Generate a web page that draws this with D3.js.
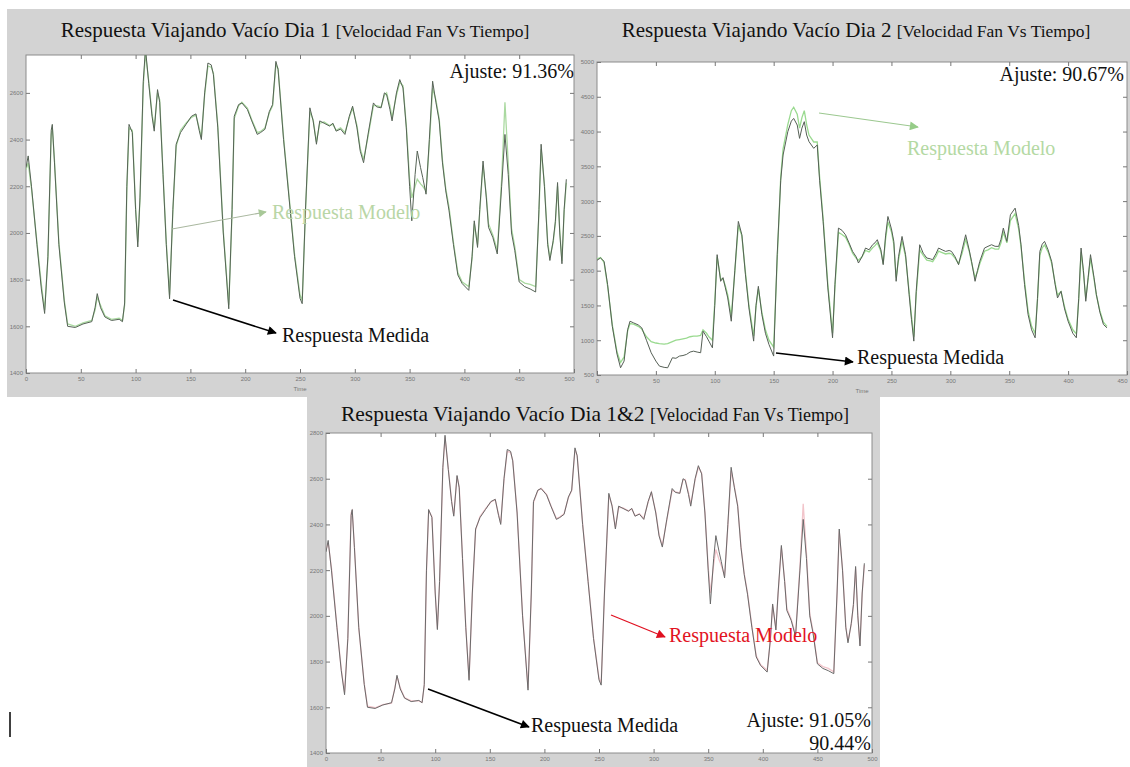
<!DOCTYPE html>
<html><head><meta charset="utf-8">
<script src="https://cdn.jsdelivr.net/npm/d3@7/dist/d3.min.js"></script>
<style>body{margin:0;background:#fff}svg{display:block}</style>
</head><body><svg id="c" width="1130" height="767"></svg>
<script>
// ---------------- DATA ----------------
const tiempo1 = [0,2,5,10,14,17,20,23,24,26,30,35,38,45,52,60,63,65,68,72,78,85,88,90,92,94,97,100,102,104,107,109,112,115,117,120,122,125,128,131,134,137,141,146,151,155,158,160,163,166,169,171,175,180,185,188,190,194,197,202,206,211,214,218,222,225,228,230,235,240,245,250,252,255,259,262,265,268,272,277,280,283,287,291,295,298,302,305,308,312,317,320,324,327,329,332,334,338,341,344,347,350,352,355,357,360,362,365,368,371,374,377,380,383,386,390,394,398,404,407,409,412,414,417,420,422,426,430,434,437,440,443,446,450,455,460,465,468,470,473,476,478,481,483,485,487,489,491,493];
const medida1 = [2280,2330,2200,1950,1760,1655,1900,2440,2465,2300,1950,1700,1600,1595,1610,1620,1680,1740,1680,1640,1625,1630,1620,1700,2200,2465,2430,2100,1940,2150,2650,2790,2640,2500,2436,2614,2560,2250,1950,1718,2100,2380,2430,2465,2500,2510,2440,2400,2600,2728,2720,2678,2450,2000,1675,2100,2500,2550,2557,2529,2480,2422,2430,2444,2520,2550,2735,2700,2400,2150,1900,1720,1697,2100,2536,2480,2380,2480,2470,2458,2470,2436,2445,2422,2500,2543,2450,2350,2301,2420,2557,2540,2536,2600,2593,2530,2480,2600,2657,2621,2450,2200,2052,2250,2351,2280,2237,2166,2400,2650,2560,2480,2300,2180,2095,1950,1820,1783,1754,1900,2052,1938,2100,2308,2150,2024,1980,1910,2200,2422,2250,2000,1924,1790,1770,1760,1747,2100,2380,2200,1950,1882,1967,2050,2216,2000,1868,2100,2230];
const modelo1 = [2270,2300,2190,1960,1780,1670,1890,2420,2450,2310,1960,1710,1610,1600,1615,1625,1670,1725,1690,1645,1630,1635,1625,1690,2180,2450,2440,2110,1960,2140,2630,2770,2650,2510,2450,2600,2570,2260,1960,1735,2090,2370,2440,2470,2495,2505,2450,2410,2590,2715,2710,2685,2460,2010,1690,2080,2490,2545,2560,2535,2485,2430,2435,2450,2515,2545,2720,2705,2410,2160,1910,1735,1710,2090,2520,2485,2390,2470,2475,2460,2465,2440,2450,2430,2495,2535,2460,2360,2315,2410,2545,2545,2540,2590,2600,2545,2495,2590,2645,2630,2460,2230,2150,2200,2230,2210,2200,2180,2380,2620,2570,2490,2310,2190,2110,1960,1830,1790,1770,1890,2040,1950,2090,2290,2160,2040,1990,1925,2230,2560,2300,2020,1940,1800,1785,1780,1770,2080,2360,2210,1960,1895,1960,2040,2200,2010,1880,2090,2215];
const modelo12 = [2290,2320,2210,1955,1765,1665,1905,2450,2460,2305,1945,1705,1605,1598,1612,1618,1685,1735,1685,1642,1628,1628,1622,1695,2190,2460,2435,2105,1945,2145,2640,2780,2645,2505,2440,2610,2565,2255,1955,1725,2095,2375,2435,2468,2498,2508,2445,2405,2595,2720,2715,2680,2455,2005,1685,2095,2495,2548,2558,2532,2482,2426,2432,2447,2518,2548,2728,2702,2405,2155,1905,1728,1705,2095,2530,2482,2385,2475,2472,2459,2468,2438,2447,2426,2498,2540,2455,2355,2308,2415,2550,2542,2538,2595,2597,2538,2488,2595,2650,2625,2455,2215,2100,2225,2290,2245,2220,2175,2390,2635,2565,2485,2305,2185,2102,1955,1825,1786,1762,1895,2046,1944,2095,2300,2155,2032,1985,1918,2215,2490,2275,2010,1932,1795,1778,1770,1755,2090,2370,2205,1955,1888,1963,2045,2208,2005,1874,2095,2222];
const tiempo2 = [0,3,6,9,13,17,20,23,26,28,31,35,38,42,46,50,53,57,60,64,67,70,73,76,79,82,85,88,90,93,95,98,100,102,105,107,109,111,114,117,120,123,126,129,133,135,137,140,143,146,150,153,156,158,162,165,167,170,172,174,176,178,180,184,187,189,192,196,200,202,205,208,211,214,217,220,222,225,228,231,234,236,238,241,243,245,247,250,252,254,256,259,262,265,267,269,271,274,277,280,283,285,288,290,293,296,299,301,304,307,310,313,316,318,321,323,325,329,332,335,338,341,343,345,348,351,355,358,360,363,366,369,372,374,376,378,380,383,386,389,391,394,397,400,404,407,409,411,413,415,417,419,422,424,427,430,433];
const medida2 = [2150,2182,2134,1800,1200,800,604,700,1150,1273,1250,1220,1178,1000,820,700,628,610,604,748,740,772,780,796,830,843,830,820,1130,1050,987,891,1500,2230,1847,1900,1752,1608,1273,2000,2708,2516,1950,1465,987,1500,1775,1369,1100,939,772,2230,3300,3663,3998,4150,4189,4094,3902,4050,4142,3950,3855,3759,3807,3300,2708,1752,1035,1800,2612,2580,2516,2400,2277,2200,2110,2200,2325,2300,2373,2400,2445,2300,2086,2500,2779,2600,2421,1847,2200,2492,2230,1656,1300,987,1700,2373,2250,2182,2170,2158,2250,2325,2300,2277,2290,2277,2200,2086,2300,2516,2300,2134,1847,2000,2134,2325,2350,2373,2350,2349,2450,2612,2421,2803,2899,2650,2373,1800,1369,1150,1035,1600,2277,2380,2421,2300,2134,1800,1608,1704,1450,1273,1100,1035,1600,2325,2000,1560,1900,2230,1900,1656,1400,1226,1178];
const modelo2 = [2170,2190,2120,1780,1220,830,680,760,1130,1240,1230,1200,1160,1050,980,960,950,945,950,980,1000,1010,1020,1030,1050,1060,1060,1070,1150,1100,1050,1000,1550,2200,1880,1880,1780,1650,1350,1980,2650,2500,1980,1500,1060,1480,1740,1400,1150,1000,900,2150,3350,3750,4100,4300,4350,4250,4050,4200,4300,4100,3950,3850,3850,3350,2750,1800,1100,1750,2550,2520,2480,2380,2250,2180,2150,2200,2290,2270,2330,2360,2400,2280,2100,2450,2700,2560,2380,1900,2150,2430,2200,1700,1350,1050,1650,2300,2220,2150,2140,2130,2210,2280,2260,2240,2250,2240,2180,2100,2250,2450,2280,2120,1900,1980,2100,2280,2300,2330,2310,2310,2400,2550,2400,2720,2820,2600,2350,1850,1420,1200,1100,1580,2220,2330,2370,2270,2110,1820,1650,1700,1480,1300,1150,1090,1580,2270,1980,1600,1880,2180,1880,1650,1420,1260,1200];
const xTicks500 = [0,50,100,150,200,250,300,350,400,450,500];
const xTicks450 = [0,50,100,150,200,250,300,350,400,450];
const yTicksDia1 = [1400,1600,1800,2000,2200,2400,2600,2800];
const yTicksDia2 = [500,1000,1500,2000,2500,3000,3500,4000,4500,5000];
const titulos = ["Respuesta Viajando Vacío Dia 1","Respuesta Viajando Vacío Dia 2","Respuesta Viajando Vacío Dia 1&2"];
const subtitulo = "[Velocidad Fan Vs Tiempo]";
const ajustes = ["Ajuste: 91.36%","Ajuste: 90.67%","Ajuste: 91.05%","90.44%"];

// ---------------- DRAW ----------------
const svg = d3.select('#c');
const defs = svg.append('defs');
const SERIF = '"Liberation Serif","Times New Roman",serif';
const fmt = d3.format('d');
function marker(id, color, w, h){
  defs.append('marker').attr('id',id).attr('viewBox','0 0 10 10').attr('refX',9).attr('refY',5)
    .attr('markerWidth',w).attr('markerHeight',h).attr('markerUnits','userSpaceOnUse').attr('orient','auto')
    .append('path').attr('d','M0,0L10,5L0,10z').attr('fill',color);
}
marker('mBlack','#000',13,9);
marker('mGreen','#a8c898',11,8);
marker('mGreen2','#96cc88',13,9);
marker('mRed','#e01020',13,9);

function drawPanel(p){
  const g = svg.append('g');
  g.append('rect').attr('x',p.bg[0]).attr('y',p.bg[1]).attr('width',p.bg[2]).attr('height',p.bg[3]).attr('fill','#d3d3d3');
  const x = d3.scaleLinear().domain(p.xDomain).range([p.px0,p.px1]);
  const y = d3.scaleLinear().domain(p.yDomain).range([p.py1,p.pyTop]);
  g.append('rect').attr('x',p.px0).attr('y',p.py0).attr('width',p.px1-p.px0).attr('height',p.py1-p.py0)
    .attr('fill','#fff').attr('stroke','#8c8c8c').attr('stroke-width',1);
  const yT = p.yTicks.filter(v => y(v) >= p.py0 - 1);
  const axStyle = a => { a.select('.domain').remove(); a.selectAll('line').attr('stroke','#777');
    a.selectAll('text').attr('fill','#777').style('font-size','6px').style('font-family','Arial, sans-serif'); };
  const xb = g.append('g').attr('transform',`translate(0,${p.py1})`)
    .call(d3.axisBottom(x).tickValues(p.xTicks).tickFormat(fmt).tickSizeInner(-4).tickSizeOuter(0).tickPadding(4)).call(axStyle);
  xb.selectAll('.tick text').filter(d => x(d) > p.bg[0]+p.bg[2]-6).attr('text-anchor','end');
  g.append('g').attr('transform',`translate(0,${p.py0})`).call(d3.axisTop(x).tickValues(p.xTicks.filter(v=>v>p.xDomain[0]&&v<p.xDomain[1])).tickSizeInner(-4).tickSizeOuter(0).tickFormat('')).call(axStyle);
  g.append('g').attr('transform',`translate(${p.px0},0)`).call(d3.axisLeft(y).tickValues(yT).tickFormat(fmt).tickSizeInner(-4).tickSizeOuter(0).tickPadding(3)).call(axStyle);
  g.append('g').attr('transform',`translate(${p.px1},0)`).call(d3.axisRight(y).tickValues(yT.filter(v=>y(v)>p.py0+1&&y(v)<p.py1-1)).tickSizeInner(-4).tickSizeOuter(0).tickFormat('')).call(axStyle);
  if (p.xLabel) g.append('text').attr('x',(p.px0+p.px1)/2).attr('y',p.py1+18).attr('text-anchor','middle')
    .attr('fill','#777').style('font-size','6px').style('font-family','Arial, sans-serif').text(p.xLabel);
  const cid = 'clip'+p.id;
  defs.append('clipPath').attr('id',cid).append('rect').attr('x',p.px0).attr('y',p.py0).attr('width',p.px1-p.px0).attr('height',p.py1-p.py0);
  const line = d3.line().x(d=>x(d[0])).y(d=>y(d[1]));
  const lg = g.append('g').attr('clip-path',`url(#${cid})`);
  lg.append('path').datum(d3.zip(p.t,p.model)).attr('d',line).attr('fill','none').attr('stroke',p.modelColor).attr('stroke-width',1.3);
  lg.append('path').datum(d3.zip(p.t,p.meas)).attr('d',line).attr('fill','none').attr('stroke',p.measColor).attr('stroke-width',1);
  // title
  const tt = g.append('text').attr('x',p.titleX).attr('y',p.titleY).attr('text-anchor','middle').style('font-family',SERIF).attr('fill','#111');
  tt.append('tspan').style('font-size',p.titleSize+'px').text(p.title+' ');
  tt.append('tspan').style('font-size',p.subSize+'px').text(subtitulo);
  return g;
}

function label(g, x, y, txt, color, size, anchor){
  g.append('text').attr('x',x).attr('y',y).attr('text-anchor',anchor||'start').attr('fill',color)
    .style('font-family',SERIF).style('font-size',size+'px').text(txt);
}
function arrow(g, x1,y1,x2,y2,color,m,w){
  g.append('line').attr('x1',x1).attr('y1',y1).attr('x2',x2).attr('y2',y2).attr('stroke',color).attr('stroke-width',w||1.3).attr('marker-end',`url(#${m})`);
}
const FS = 20;

// Panel 1
const g1 = drawPanel({id:1, bg:[7,9,571,388], px0:26, px1:574, py0:55, py1:373, pyTop:46.2,
  xDomain:[0,500], yDomain:[1400,2800], xTicks:xTicks500, yTicks:yTicksDia1, xLabel:'Time',
  t:tiempo1, meas:medida1, model:modelo1, measColor:'#566356', modelColor:'#aad9a0',
  title:titulos[0], titleX:295, titleY:37, titleSize:21, subSize:17.5});
label(g1,574,78,ajustes[0],'#111',FS,'end');
arrow(g1,172,229,266,212,'#aab8a0','mGreen',1.1);
label(g1,272,219,'Respuesta Modelo','#b9d6a6',FS);
arrow(g1,173,300,276,333,'#000','mBlack',1.5);
label(g1,282,342,'Respuesta Medida','#111',FS);

// Panel 2
const g2 = drawPanel({id:2, bg:[578,9,552,388], px0:597, px1:1127, py0:62, py1:375, pyTop:62,
  xDomain:[0,450], yDomain:[500,5000], xTicks:xTicks450, yTicks:yTicksDia2, xLabel:'Time',
  t:tiempo2, meas:medida2, model:modelo2, measColor:'#555f55', modelColor:'#9ada90',
  title:titulos[1], titleX:856, titleY:37, titleSize:21, subSize:17.5});
label(g2,1124,81,ajustes[1],'#111',FS,'end');
arrow(g2,819,113,918,127,'#9cc890','mGreen2',1.2);
label(g2,907,155,'Respuesta Modelo','#b4d9a3',FS);
arrow(g2,776,353,853,362,'#000','mBlack',1.5);
label(g2,857,364,'Respuesta Medida','#111',FS);

// Panel 3
const g3 = drawPanel({id:3, bg:[307,397,573,370], px0:326, px1:872, py0:433, py1:753, pyTop:433,
  xDomain:[0,500], yDomain:[1400,2800], xTicks:xTicks500, yTicks:yTicksDia1, xLabel:null,
  t:tiempo1, meas:medida1, model:modelo12, measColor:'#6a6a6a', modelColor:'#f2c4ca',
  title:titulos[2], titleX:595, titleY:421, titleSize:21.5, subSize:18});
arrow(g3,611,615,665,637,'#e01020','mRed',1.3);
label(g3,669,642,'Respuesta Modelo','#e2141f',FS);
arrow(g3,428,689,529,727,'#000','mBlack',1.5);
label(g3,531,732,'Respuesta Medida','#111',FS);
label(g3,871,727,ajustes[2],'#111',FS,'end');
label(g3,871,750,ajustes[3],'#111',FS,'end');

// stray mark at left edge
svg.append('line').attr('x1',10).attr('y1',712).attr('x2',10).attr('y2',737).attr('stroke','#000').attr('stroke-width',1.5);
</script>
</body></html>
